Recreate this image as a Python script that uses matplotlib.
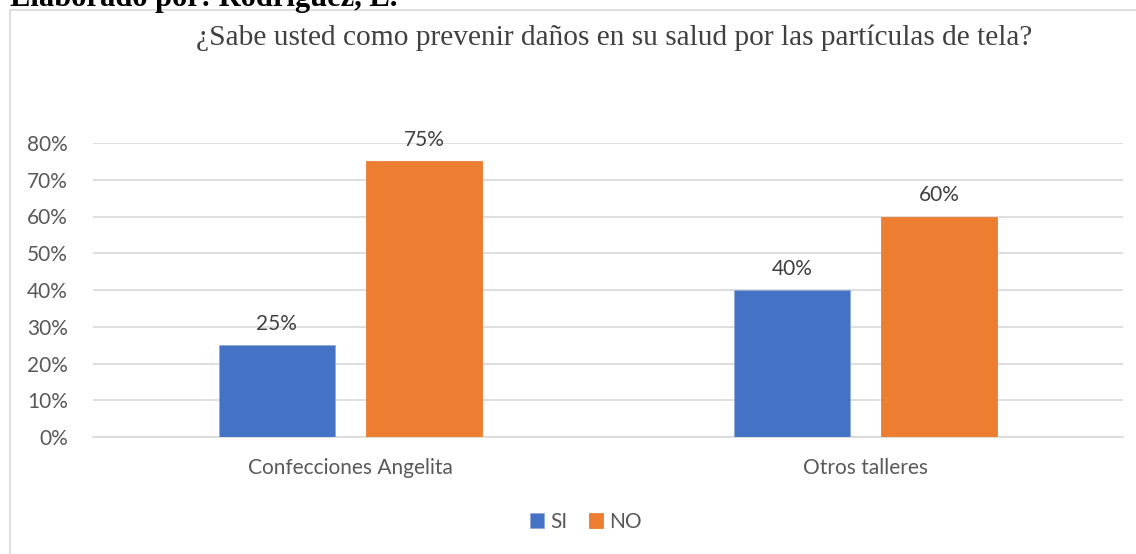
import matplotlib
matplotlib.use("Agg")
import matplotlib.pyplot as plt
from matplotlib.patches import Rectangle
import numpy as np

categories = ["Confecciones Angelita", "Otros talleres"]
series_names = ["SI", "NO"]
si_values = [0.25, 0.40]
no_values = [0.75, 0.60]
y_ticks = [0, 0.1, 0.2, 0.3, 0.4, 0.5, 0.6, 0.7, 0.8]
y_ticklabels = ["0%", "10%", "20%", "30%", "40%", "50%", "60%", "70%", "80%"]
title = "¿Sabe usted como prevenir daños en su salud por las partículas de tela?"
header = "Elaborado por: Rodríguez, L."

blue = "#4472C4"
orange = "#ED7D31"
text_col = "#595959"
grid_col = "#D9D9D9"
sans = ["Lato", "DejaVu Sans"]
serif = ["Liberation Serif", "DejaVu Serif"]
fs = 15

W, H = 1136, 554
fig = plt.figure(figsize=(W / 100, H / 100), dpi=100)
fig.patch.set_facecolor("white")

# chart border
fig.add_artist(Rectangle((10 / W, -0.01), 1.1, (H - 10) / H + 0.01,
                         transform=fig.transFigure, fill=False,
                         edgecolor="#D9D9D9", linewidth=1.2))

# header (cut at top, as in the reference)
fig.text(10 / W, 1 - 6 / H, header, family=serif, fontsize=22,
         fontweight="bold", color="black", ha="left", va="baseline")

# title
fig.text(614 / W, 1 - 38 / H, title, family=serif, fontsize=21.2,
         color="#404040", ha="center", va="center")

left, right = 93, 1123
top_y, bot_y = 143, 437
ymax = 0.8
ax = fig.add_axes([left / W, 1 - bot_y / H, (right - left) / W, (bot_y - top_y) / H])
ax.set_ylim(0, ymax)
ax.set_xlim(-0.5, 1.5)

x = np.arange(len(categories))
bw = 0.224
gap = 0.062
off = (bw + gap) / 2
b1 = ax.bar(x - off, si_values, bw, color=blue, edgecolor="#8EA9DB", linewidth=0.6, label=series_names[0], zorder=3)
b2 = ax.bar(x + off, no_values, bw, color=orange, edgecolor=orange, linewidth=0.6, label=series_names[1], zorder=3)

for bars, vals in ((b1, si_values), (b2, no_values)):
    for rect, v in zip(bars, vals):
        ax.annotate(f"{v * 100:.0f}%", (rect.get_x() + rect.get_width() / 2, v),
                    xytext=(0, 8), textcoords="offset points", ha="center", va="bottom",
                    family=sans, fontsize=fs, color="#404040")

ax.set_yticks(y_ticks)
ax.set_yticklabels(y_ticklabels, family=sans, fontsize=fs, color=text_col)
ax.set_xticks(x)
ax.set_xticklabels(categories, family=sans, fontsize=fs, color=text_col)
ax.tick_params(axis="y", length=0, pad=18)
ax.tick_params(axis="x", length=0, pad=15)
ax.grid(axis="y", color=grid_col, linewidth=1.2, zorder=0)
for s in ["top", "right", "left"]:
    ax.spines[s].set_visible(False)
ax.spines["bottom"].set_color(grid_col)
ax.spines["bottom"].set_linewidth(1.2)

leg = fig.legend(handles=[b1, b2], labels=series_names, loc="center",
                 bbox_to_anchor=(586 / W, 1 - 522 / H), ncol=2, frameon=False,
                 prop={"family": sans, "size": fs}, handlelength=0.7, handleheight=0.7,
                 handletextpad=0.3, columnspacing=1.0)
for t in leg.get_texts():
    t.set_color(text_col)

fig.savefig("out.png", dpi=100, facecolor="white")
